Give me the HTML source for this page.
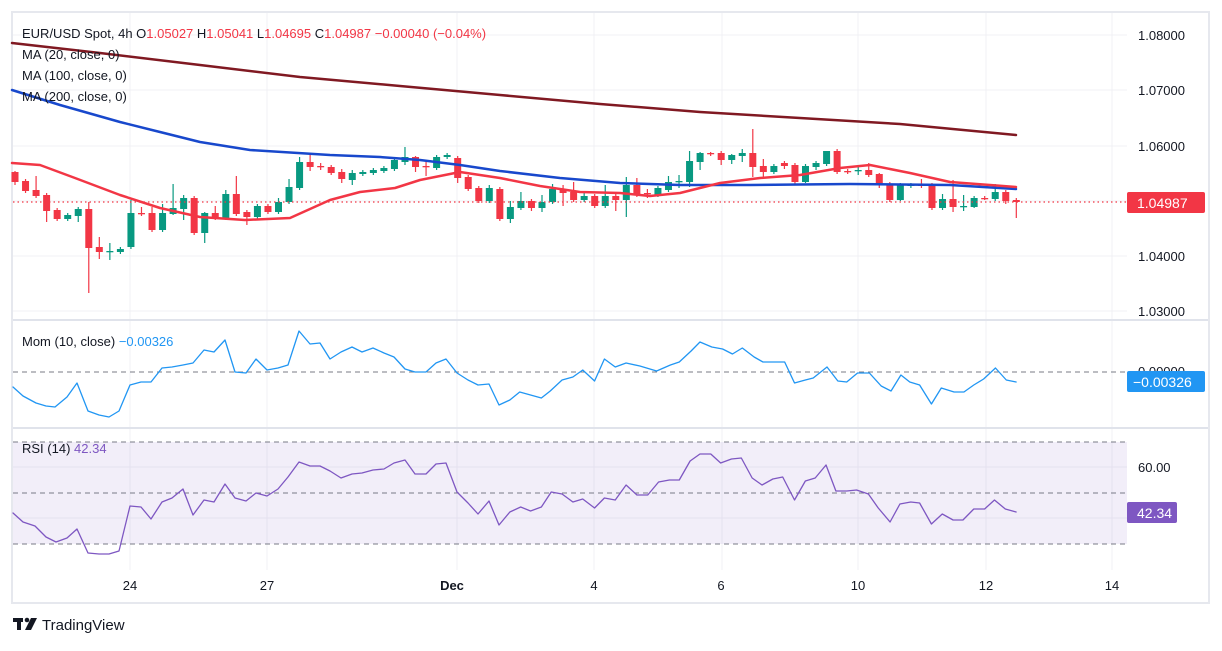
<!DOCTYPE html>
<html><head><meta charset="utf-8"><style>
html,body{margin:0;padding:0;background:#fff;}
body{width:1222px;height:646px;overflow:hidden;font-family:"Liberation Sans",sans-serif;}
svg text{font-family:"Liberation Sans",sans-serif;}
</style></head><body>
<svg id="s" width="1222" height="646" xmlns="http://www.w3.org/2000/svg">
<rect x="12" y="12" width="1197" height="591" fill="#fff" stroke="#e6e8ee" stroke-width="2"/>
<g id="grid" stroke="#f0f1f4" stroke-width="1"></g>
<rect x="13" y="442" width="1114" height="102" fill="#7e57c2" fill-opacity="0.1"/>
<line x1="13" y1="320" x2="1208" y2="320" stroke="#e0e3eb" stroke-width="2"/>
<line x1="13" y1="428" x2="1208" y2="428" stroke="#e0e3eb" stroke-width="2"/>
<g stroke="#787b86" stroke-dasharray="5,4" stroke-width="1">
<line x1="13" y1="372" x2="1127" y2="372"/>
<line x1="13" y1="442" x2="1127" y2="442"/>
<line x1="13" y1="493" x2="1127" y2="493"/>
<line x1="13" y1="544" x2="1127" y2="544"/>
</g>
<g id="candles"></g>
<g id="lines" fill="none" stroke-linejoin="round" stroke-linecap="round"></g>
<line x1="13" y1="202" x2="1127" y2="202" stroke="#f23645" stroke-dasharray="1.5,3" stroke-width="1.2"/>
<g font-size="13" fill="#131722">
<text x="1138" y="40">1.08000</text>
<text x="1138" y="95">1.07000</text>
<text x="1138" y="151">1.06000</text>
<text x="1138" y="261">1.04000</text>
<text x="1138" y="316">1.03000</text>
<text x="1138" y="376">0.00000</text>
<text x="1138" y="472">60.00</text>
<text x="1138" y="520">40.00</text>
</g>
<rect x="1127" y="192" width="78" height="21" rx="2" fill="#f23645"/>
<text x="1137" y="208" font-size="14" fill="#fff">1.04987</text>
<rect x="1127" y="371" width="78" height="21" rx="2" fill="#2196f3"/>
<text x="1133" y="387" font-size="14" fill="#fff">−0.00326</text>
<rect x="1127" y="502" width="50" height="21" rx="2" fill="#7e57c2"/>
<text x="1137" y="518" font-size="14" fill="#fff">42.34</text>
<g font-size="13" fill="#131722" text-anchor="middle">
<text x="130" y="590">24</text><text x="267" y="590">27</text>
<text x="452" y="590" font-weight="bold">Dec</text><text x="594" y="590">4</text>
<text x="721" y="590">6</text><text x="858" y="590">10</text>
<text x="986" y="590">12</text><text x="1112" y="590">14</text>
</g>
<g font-size="13" fill="#131722">
<text x="22" y="38">EUR/USD Spot, 4h  O<tspan fill="#f23645">1.05027</tspan>  H<tspan fill="#f23645">1.05041</tspan>  L<tspan fill="#f23645">1.04695</tspan>  C<tspan fill="#f23645">1.04987</tspan>  <tspan fill="#f23645">−0.00040 (−0.04%)</tspan></text>
<text x="22" y="59">MA (20, close, 0)</text>
<text x="22" y="80">MA (100, close, 0)</text>
<text x="22" y="101">MA (200, close, 0)</text>
<text x="22" y="346">Mom (10, close)  <tspan fill="#2196f3">−0.00326</tspan></text>
<text x="22" y="453">RSI (14)  <tspan fill="#7e57c2">42.34</tspan></text>
</g>
<g fill="#131722">
<rect x="13" y="618" width="10" height="4"/><rect x="17" y="618" width="4" height="12"/>
<circle cx="27" cy="620" r="2.3"/><polygon points="31,618 37,618 31,630 25,630"/>
<text x="42" y="630" font-size="15">TradingView</text>
</g>
</svg>
<script>
var NS="http://www.w3.org/2000/svg";
function el(p,t,a){var e=document.createElementNS(NS,t);for(var k in a)e.setAttribute(k,a[k]);p.appendChild(e);return e;}
var g=document.getElementById('grid');
[35,90,146,201,256,311,467,518].forEach(function(y){el(g,'line',{x1:13,x2:1127,y1:y,y2:y});});
[130,267,457,594,722,858,986,1112].forEach(function(x){el(g,'line',{x1:x,x2:x,y1:13,y2:570});});
var D=[[172,182,0,171,185],[181,191,0,0,0],[190,196,0,176,0],[195,211,0,0,222],[210,219,0,0,0],[215,219,1,0,0],[209,216,1,0,222],[209,248,0,202,293],[247,252,0,237,259],[251,252,1,243,260],[249,252,1,0,0],[213,247,1,200,0],[213,214,0,207,216],[213,230,0,207,0],[213,230,1,204,0],[208,214,1,184,215],[198,209,1,195,220],[198,233,0,196,0],[213,233,1,212,243],[213,218,0,206,0],[194,218,1,190,0],[194,214,0,176,0],[212,217,0,210,225],[206,217,1,0,0],[206,212,0,204,0],[202,212,1,198,0],[187,202,1,179,0],[162,188,1,157,190],[162,167,0,153,171],[166,167,0,163,170],[167,173,0,0,175],[172,179,0,169,183],[173,180,1,170,185],[172,174,1,170,0],[170,173,1,0,0],[168,171,1,0,0],[160,169,1,0,0],[157,162,1,147,165],[157,167,0,156,172],[166,167,0,162,176],[157,168,1,0,0],[155,157,1,153,0],[158,178,0,0,183],[177,189,0,0,0],[188,201,0,0,0],[188,201,1,185,0],[189,219,0,0,0],[207,219,1,201,223],[201,208,1,192,0],[201,208,0,0,211],[202,208,1,195,212],[189,202,1,184,0],[189,193,0,185,206],[192,200,0,182,0],[196,200,1,193,0],[196,206,0,0,208],[196,206,1,185,0],[196,200,0,193,211],[185,200,1,177,217],[185,195,0,178,197],[193,194,0,189,198],[188,195,1,0,197],[182,190,1,176,0],[181,182,1,175,188],[161,182,1,151,187],[153,162,1,152,170],[153,154,0,152,156],[153,160,0,0,165],[155,160,1,154,164],[153,156,1,149,162],[153,167,0,129,177],[166,172,0,159,178],[166,172,1,0,0],[163,166,0,0,169],[165,182,0,0,0],[166,182,1,164,183],[163,167,1,0,170],[151,164,1,154,0],[151,172,0,149,0],[171,172,0,0,174],[170,171,1,166,175],[170,175,0,163,0],[174,185,0,173,188],[184,200,0,182,202],[185,200,1,0,201],[184,186,1,183,188],[184,186,0,179,0],[185,208,0,0,0],[199,208,1,194,0],[199,207,0,180,212],[206,207,1,195,211],[198,207,1,0,208],[198,199,0,196,200],[192,199,1,184,0],[192,201,0,0,204],[200,202,0,198,218]];
var cg=document.getElementById('candles');
D.forEach(function(d,i){var x=15+i*10.54,c=d[2]?'#089981':'#f23645';
var hi=d[3]||d[0]-2,lo=d[4]||d[1]+2;
el(cg,'line',{x1:x,x2:x,y1:hi,y2:lo,stroke:c,'stroke-width':1.2});
el(cg,'rect',{x:x-3.5,y:d[0],width:7,height:Math.max(1.3,d[1]-d[0]),fill:c});});
var lg=document.getElementById('lines');
function pl(pts,col,w){el(lg,'polyline',{points:pts.map(function(p){return p.join(',')}).join(' '),stroke:col,'stroke-width':w});}
pl([[12,43],[100,53],[200,65],[300,77],[400,86],[500,95],[600,104],[700,112],[800,118],[900,124],[1016,135]],'#801922',2.5);
pl([[12,90],[60,105],[120,122],[160,132],[200,142],[250,150],[330,155],[380,157],[420,160],[460,165],[500,171],[560,178],[620,183],[680,185],[750,185],[850,184],[950,185],[1016,189]],'#1848cc',2.5);
pl([[12,163],[40,165],[75,178],[120,195],[160,208],[200,217],[245,220],[290,218],[330,200],[360,192],[395,188],[420,180],[460,172],[500,178],[540,186],[580,192],[620,193],[650,196],[680,193],[720,183],[760,178],[800,175],[840,168],[870,165],[910,173],[950,182],[990,185],[1016,187]],'#f23645',2.5);
var M=[[13,387],[23,396],[36,403],[46,406],[55,407],[67,397],[77,383],[88,411],[99,415],[109,417],[119,411],[130,385],[141,382],[151,382],[162,368],[172,367],[183,365],[193,363],[204,350],[214,352],[225,340],[235,372],[246,373],[256,359],[267,370],[278,368],[288,365],[299,331],[310,344],[320,343],[330,359],[341,352],[352,347],[362,352],[373,348],[384,353],[394,357],[405,369],[415,372],[426,372],[436,363],[446,359],[457,373],[468,380],[478,385],[489,384],[499,405],[510,400],[520,392],[542,398],[551,391],[563,380],[574,377],[584,370],[596,381],[606,359],[617,367],[628,363],[642,366],[659,371],[673,365],[682,362],[694,351],[703,342],[715,347],[726,349],[736,354],[746,348],[758,357],[767,362],[789,362],[799,383],[810,380],[818,378],[832,367],[843,381],[852,382],[863,373],[875,373],[887,386],[897,391],[907,375],[916,382],[926,385],[938,404],[948,388],[961,392],[971,392],[981,385],[991,379],[1003,368],[1014,380],[1024,382]];
var R=[[13,513],[23,522],[35,526],[46,537],[56,542],[67,538],[77,529],[88,553],[99,554],[109,554],[119,551],[130,506],[141,507],[151,519],[162,502],[172,498],[183,489],[193,515],[204,500],[214,502],[225,484],[235,498],[246,501],[256,493],[267,496],[278,489],[288,477],[299,462],[310,466],[320,466],[330,471],[341,478],[352,474],[362,473],[373,470],[384,469],[394,463],[405,460],[415,474],[426,474],[436,464],[446,463],[457,492],[468,503],[478,514],[489,501],[499,525],[510,512],[521,507],[531,511],[542,507],[552,492],[563,494],[574,502],[584,499],[596,508],[606,498],[617,500],[628,485],[639,495],[650,495],[661,482],[672,480],[682,480],[693,461],[703,454],[714,454],[724,463],[735,459],[745,458],[756,478],[766,485],[777,479],[787,477],[799,500],[810,481],[820,478],[831,465],[841,491],[852,491],[862,490],[874,494],[884,508],[896,522],[906,504],[917,502],[926,503],[938,524],[949,514],[960,520],[970,520],[981,509],[992,509],[1002,500],[1013,509],[1024,512]];
function fx(a){return a.map(function(p){return [p[0]>500?500+(p[0]-500)*0.985:p[0],p[1]];});}
pl(fx(M),'#2196f3',1.3);
pl(fx(R),'#7e57c2',1.3);
</script>
</body></html>
